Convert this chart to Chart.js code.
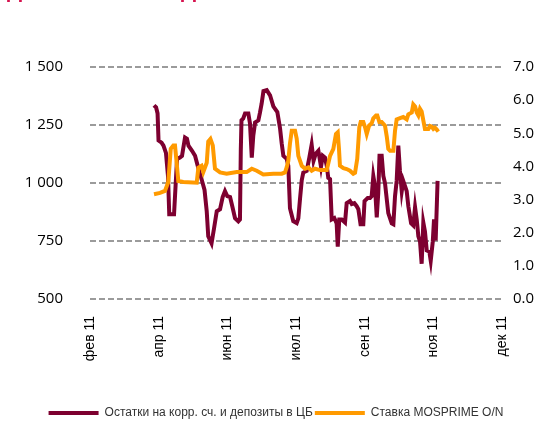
<!DOCTYPE html>
<html>
<head>
<meta charset="utf-8">
<script src="https://cdn.jsdelivr.net/npm/chart.js@4"></script>
<style>
  html, body { margin: 0; padding: 0; background: #fff; }
  #wrap { width: 552px; height: 429px; position: relative; }
</style>
</head>
<body>
<div id="wrap"><canvas id="myChart"></canvas></div>
<script>
// x = days from the first axis label (фев 11), one label every 50 days
var tickLabels = ['фев 11', 'апр 11', 'июн 11', 'июл 11', 'сен 11', 'ноя 11', 'дек 11'];

// Остатки на корр. сч. и депозиты в ЦБ (left axis)
var balanceDays = [46.6,48.1,49.2,49.9,52.1,53.5,55.3,56.8,57.7,61.2,
  62.3,63.4,65.5,67,69.2,70.6,71.7,74.3,76.5,78.6,
  81.2,83.4,85,86.1,88.5,90.3,92.3,94.7,96.6,98.3,
  100,102,103.6,105.6,108,109.2,109.8,110.3,111.6,112.9,
  115.3,116.5,117.8,118.9,120.2,122.6,123.8,125,126.3,128.7,
  131.1,133.5,136.4,138.4,139.6,140.8,143.2,144.4,145.6,148,
  150.5,151.7,152.9,154.2,155.3,157.8,159.7,161.4,162.8,164.4,
  166.3,168.2,169.5,171.1,172.4,173.5,174.8,176,177.9,179.6,
  180.4,181.5,183.3,185.7,186.9,189.3,190.6,192.5,194.2,195.4,
  197,199,199.9,202.2,203.9,205.1,206.3,207.5,208.8,209.9,
  210.8,212.4,213.6,214.8,217.2,219.7,220.9,222.1,223.3,224.5,
  225.7,227,228.1,229.4,230.6,231.8,233.8,235.4,236.7,237.9,
  239.1,240.3,241.5,242.7,243.9,245.2,247.1,248.1,249.6,250.5,
  251.7,253.1];
var balanceValues = [1335,1326,1300,1183,1174,1161,1130,1030,865,865,
  987,1104,1110,1117,1196,1191,1161,1139,1117,1070,
  1017,970,878,770,740,804,878,887,939,965,
  943,939,900,848,835,843,1139,1270,1278,1300,
  1300,1257,1109,1204,1261,1270,1304,1343,1396,1400,
  1378,1330,1306,1235,1170,1117,1104,1074,891,835,
  827,848,930,1013,1045,1052,1109,1165,1096,1126,
  1139,1070,1117,1109,1074,1022,1017,843,849,826,
  726,843,843,830,913,922,909,913,900,887,
  822,822,922,935,935,943,1030,987,852,957,
  1117,1117,1030,1000,870,826,822,943,1009,1161,
  1052,965,1009,987,965,900,826,817,896,843,
  770,748,652,830,791,709,704,665,748,843,
  752,1009];

// Ставка MOSPRIME O/N (right axis)
var rateDays = [46.6,51,54.6,57,58.8,60.7,61.9,63.1,64.3,67.9,
  77.7,78.9,81.2,82.5,85,86.1,87.7,89.4,91,94.7,
  99.5,106.8,114.1,117.8,121.4,126.2,133.5,139.6,142,143.2,
  144.4,145.6,146.9,149.3,150.5,151.7,154.2,156.6,159,161.4,
  163.8,167.5,172.4,174.8,177.2,179.1,180.4,181.3,182,184.5,
  186.9,189.3,191.7,193,194.6,196.1,197.1,199,200.3,201.5,
  203.2,205.1,206.3,208.3,209.2,210.7,212.4,214.8,216.1,217.2,
  218.5,220.9,222.1,223.3,225.7,228.1,230.6,231.8,234.3,235.4,
  236.7,237.9,239.1,240.3,241.5,242.7,243.9,246.4,247.6,248.8,
  250,251.2,252.5,253.6];
var rateValues = [3.16,3.20,3.26,3.53,4.53,4.63,4.63,4.11,3.56,3.53,
  3.51,3.96,4.02,3.83,4.11,4.75,4.83,4.63,3.93,3.82,
  3.78,3.83,3.83,3.93,3.87,3.76,3.78,3.78,3.82,3.97,
  4.17,4.69,5.08,5.08,4.84,4.32,4.02,3.93,3.97,3.87,
  3.93,3.89,3.89,4.32,4.53,4.98,5.03,4.53,4.02,3.95,
  3.92,3.87,3.78,3.81,4.23,5.18,5.34,5.34,5.18,4.98,
  5.23,5.30,5.45,5.54,5.54,5.34,5.34,5.23,4.90,4.53,
  4.47,4.47,5.08,5.42,5.46,5.49,5.42,5.57,5.63,5.87,
  5.81,5.63,5.54,5.74,5.66,5.39,5.13,5.13,5.22,5.20,
  5.13,5.17,5.11,5.05];

function toPoints(xs, ys) {
  return xs.map(function (x, i) { return { x: x, y: ys[i] }; });
}

function spaced(v) {
  if (v < 1000) return String(v);
  return Math.floor(v / 1000) + ' ' + String(v % 1000).padStart(3, '0');
}

// bottom of the cut-off title above the chart
var titleCut = {
  id: 'titleCut',
  afterDraw: function (chart) {
    var c = chart.ctx;
    c.save();
    c.fillStyle = '#d6124e';
    c.font = 'bold 19px "DejaVu Sans"';
    c.textBaseline = 'alphabetic';
    c.fillText('Д', 6, -1);
    c.fillText('Д', 180, -1);
    c.restore();
  }
};

Chart.defaults.font.family = '"Open Sans", sans-serif';
Chart.defaults.color = '#000';

const ctx = document.getElementById('myChart');

new Chart(ctx, {
  type: 'line',
  data: {
    datasets: [{
      label: 'Остатки на корр. сч. и депозиты в ЦБ',
      data: toPoints(balanceDays, balanceValues),
      yAxisID: 'y',
      borderColor: '#7d0030',
      backgroundColor: '#7d0030',
      borderWidth: 4,
      pointRadius: 0,
      tension: 0,
      order: 2
    }, {
      label: 'Ставка MOSPRIME O/N',
      data: toPoints(rateDays, rateValues),
      yAxisID: 'y1',
      borderColor: '#ff9a00',
      backgroundColor: '#ff9a00',
      borderWidth: 4,
      pointRadius: 0,
      tension: 0,
      order: 1
    }]
  },
  options: {
    responsive: true,
    maintainAspectRatio: false,
    animation: false,
    layout: { padding: { top: 67, left: 0, right: 0, bottom: 0 } },
    plugins: {
      tooltip: { enabled: false },
      legend: {
        position: 'bottom',
        labels: {
          usePointStyle: true,
          pointStyle: 'line',
          pointStyleWidth: 50,
          padding: 2,
          color: '#333',
          font: { family: '"Liberation Sans", sans-serif', size: 12 },
          sort: function (a, b) { return a.datasetIndex - b.datasetIndex; }
        }
      }
    },
    scales: {
      x: {
        type: 'linear',
        min: 0,
        max: 300,
        border: { display: false },
        grid: { display: false, drawTicks: false },
        afterFit: function (scale) { scale.height = 106; },
        ticks: {
          stepSize: 50,
          autoSkip: false,
          minRotation: 90,
          maxRotation: 90,
          padding: 17,
          font: { family: '"Liberation Sans", sans-serif', size: 14 },
          callback: function (v) { return tickLabels[Math.round(v / 50)]; }
        }
      },
      y: {
        position: 'left',
        min: 500,
        max: 1500,
        afterFit: function (scale) { scale.width = 90; },
        grid: {
          color: '#9b9b9b',
          lineWidth: 2,
          drawTicks: false
        },
        border: { display: false, dash: [6, 3] },
        ticks: {
          stepSize: 250,
          padding: 27,
          font: { size: 15 },
          callback: function (v) { return spaced(v); }
        }
      },
      y1: {
        position: 'right',
        min: 0,
        max: 7,
        border: { display: false },
        afterFit: function (scale) { scale.width = 50; },
        grid: { display: false, drawTicks: false },
        ticks: {
          stepSize: 1,
          padding: 11,
          font: { size: 15 },
          callback: function (v) { return v.toFixed(1); }
        }
      }
    }
  },
  plugins: [titleCut]
});
</script>
</body>
</html>
